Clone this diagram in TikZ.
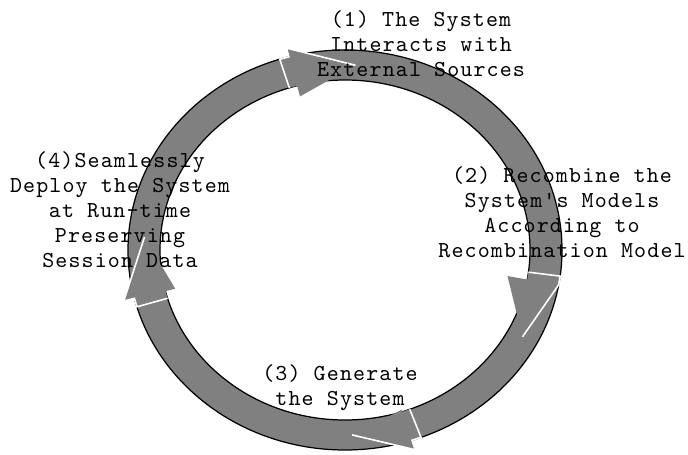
\documentclass[tikz,border=0pt]{standalone}
\usepackage{fontspec}
\newfontfamily\stepfont[LetterSpace=5]{lmmono10-regular.otf}
\usetikzlibrary{calc}

\definecolor{ringgray}{RGB}{128,128,128}

\tikzset{
  steplabel/.style={font=\stepfont\fontsize{13}{14.2}\selectfont, align=center, inner sep=0pt},
  rim/.style={black, line width=0.7pt},
  headrim/.style={white, line width=0.9pt, line join=miter}
}

\begin{document}
\begin{tikzpicture}
  [x=0.02cm, y=0.02cm]
  \useasboundingbox (0,0) rectangle (688,454);
  \coordinate (c) at (345,204);
  % ring
  \fill[ringgray, even odd rule] (c) ellipse [x radius=217, y radius=200]
                                 (c) ellipse [x radius=185, y radius=170];
  \draw[rim] (c) ellipse [x radius=217, y radius=200];
  \draw[rim] (c) ellipse [x radius=185, y radius=170];
  % heads: tip angle / base angle / overhang outside / overhang inside
  \foreach \tip/\base/\wo/\wi in {87/105/9/11, -28/-10/0/20, -88/-72/10/2, 176/194/11/10} {
    \pgfmathsetmacro\neck{\base+2.5}
    \coordinate (nO) at ($(c)+({217*cos(\neck)},{200*sin(\neck)})$);
    \coordinate (nI) at ($(c)+({185*cos(\neck)},{170*sin(\neck)})$);
    \coordinate (bO) at ($(c)+({217*cos(\base)},{200*sin(\base)})$);
    \coordinate (bI) at ($(c)+({185*cos(\base)},{170*sin(\base)})$);
    \coordinate (hO) at ($(c)+({(217+\wo)*cos(\base)},{(200+\wo)*sin(\base)})$);
    \coordinate (hI) at ($(c)+({(185-\wi)*cos(\base)},{(170-\wi)*sin(\base)})$);
    \coordinate (tp) at ($(c)+({201*cos(\tip)},{185*sin(\tip)})$);
    \fill[ringgray] (nI) -- (nO) -- (bO) -- (hO) -- (tp) -- (hI) -- (bI) -- cycle;
    \draw[headrim] (nI) -- (nO) -- (bO) -- (hO) -- (tp);
  }
  % step texts
  \node[steplabel] (interact) at (421,410) {(1) The System\\Interacts with\\External Sources};
  \node[steplabel] (recombine) at (562,242) {(2) Recombine the\\System's Models\\According to\\Recombination Model};
  \node[steplabel] (generate) at (340,66) {(3) Generate\\the System};
  \node[steplabel] (deploy) at (120,244) {(4)Seamlessly\\Deploy the System\\at Run-time\\Preserving\\Session Data};
\end{tikzpicture}
\end{document}
